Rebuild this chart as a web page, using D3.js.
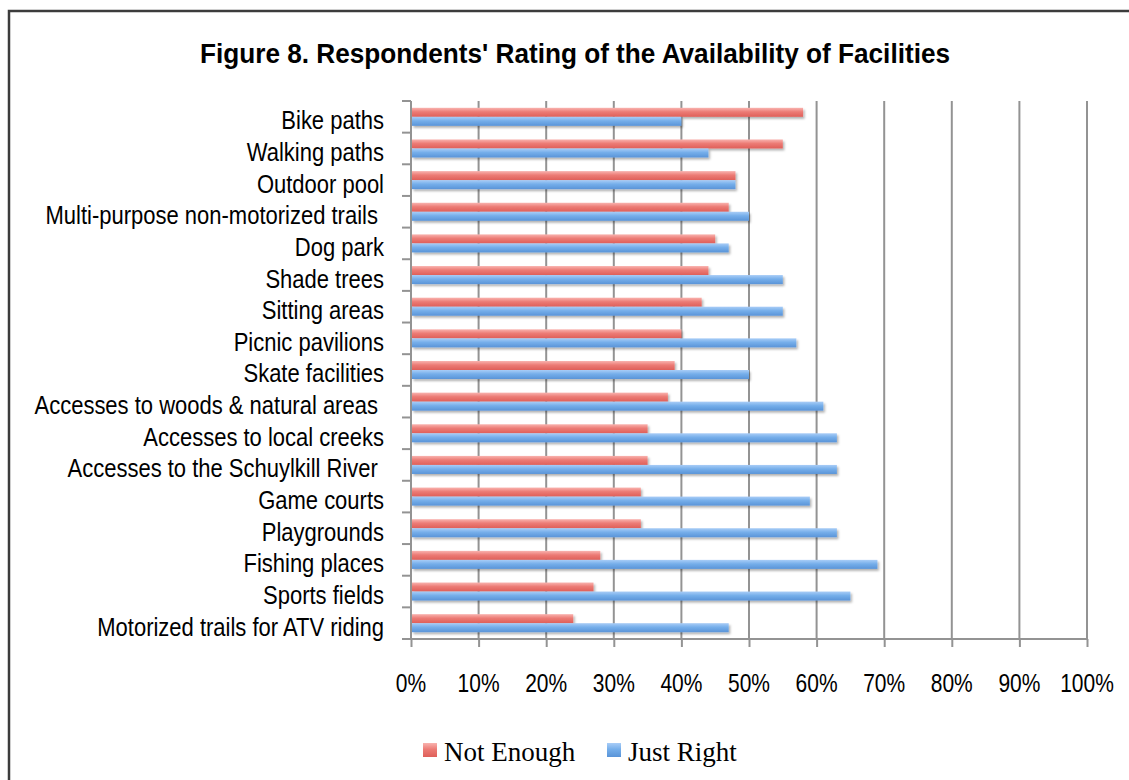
<!DOCTYPE html>
<html>
<head>
<meta charset="utf-8">
<script src="https://cdn.jsdelivr.net/npm/d3@7"></script>
<style>
  html, body { margin: 0; padding: 0; background: #fff; }
  svg { display: block; }
  text { white-space: pre; }
</style>
</head>
<body>
<svg id="chart" width="1129" height="780"></svg>
<script>
// --- Data ---------------------------------------------------------------
const categories = [
  'Bike paths',
  'Walking paths',
  'Outdoor pool',
  'Multi-purpose non-motorized trails ',
  'Dog park',
  'Shade trees',
  'Sitting areas',
  'Picnic pavilions',
  'Skate facilities',
  'Accesses to woods & natural areas ',
  'Accesses to local creeks',
  'Accesses to the Schuylkill River ',
  'Game courts',
  'Playgrounds',
  'Fishing places',
  'Sports fields',
  'Motorized trails for ATV riding'
];
const seriesNames = ['Not Enough', 'Just Right'];
const notEnough = [0.58, 0.55, 0.48, 0.47, 0.45, 0.44, 0.43, 0.40, 0.39, 0.38, 0.35, 0.35, 0.34, 0.34, 0.28, 0.27, 0.24];
const justRight = [0.40, 0.44, 0.48, 0.50, 0.47, 0.55, 0.55, 0.57, 0.50, 0.61, 0.63, 0.63, 0.59, 0.63, 0.69, 0.65, 0.47];
const xTicks = [0, 0.1, 0.2, 0.3, 0.4, 0.5, 0.6, 0.7, 0.8, 0.9, 1.0];

// --- Layout -------------------------------------------------------------
const svg = d3.select('#chart');
const plot = { left: 411, right: 1087, top: 101, bottom: 639 };
const sxTick = 0.84; // horizontal squeeze of the narrow-looking labels
const sxCat = 0.88;

const x = d3.scaleLinear().domain([0, 1]).range([plot.left, plot.right]);
const y = d3.scaleBand().domain(categories).range([plot.top, plot.bottom])
  .paddingInner(0.43).paddingOuter(0.215);
const ySub = d3.scaleBand().domain(seriesNames).range([0, y.bandwidth()]);

// gradients + shadow
const defs = svg.append('defs');
const grads = [
  { id: 'gRed', stops: ['#f9b3af', '#ec7b75', '#df5f59'] },
  { id: 'gBlue', stops: ['#a9cdf7', '#75aeea', '#5a94d8'] }
];
grads.forEach(g => {
  const lg = defs.append('linearGradient').attr('id', g.id)
    .attr('x1', 0).attr('y1', 0).attr('x2', 0).attr('y2', 1);
  lg.append('stop').attr('offset', '0%').attr('stop-color', g.stops[0]);
  lg.append('stop').attr('offset', '45%').attr('stop-color', g.stops[1]);
  lg.append('stop').attr('offset', '100%').attr('stop-color', g.stops[2]);
});
defs.append('filter').attr('id', 'shadow')
  .attr('x', '-5%').attr('y', '-50%').attr('width', '110%').attr('height', '200%')
  .append('feDropShadow')
  .attr('dx', 1.5).attr('dy', 2).attr('stdDeviation', 1.3)
  .attr('flood-color', '#000').attr('flood-opacity', 0.3);
const fills = { 'Not Enough': 'url(#gRed)', 'Just Right': 'url(#gBlue)' };

// frame (runs off the right and bottom edge)
svg.append('rect')
  .attr('x', 9).attr('y', 11).attr('width', 1200).attr('height', 800)
  .attr('fill', 'none').attr('stroke', '#3c3c3c').attr('stroke-width', 2.5);

// title
svg.append('text')
  .attr('x', 200).attr('y', 63)
  .attr('textLength', 750).attr('lengthAdjust', 'spacingAndGlyphs')
  .attr('font-family', 'Liberation Sans, Arial, sans-serif')
  .attr('font-weight', 'bold').attr('font-size', 28).attr('fill', '#000')
  .text("Figure 8. Respondents' Rating of the Availability of Facilities");

// gridlines
svg.append('g').selectAll('line.grid')
  .data(xTicks.slice(1))
  .join('line')
  .attr('x1', d => x(d)).attr('x2', d => x(d))
  .attr('y1', plot.top).attr('y2', plot.bottom)
  .attr('stroke', '#939393').attr('stroke-width', 2);

// x axis
const xAxis = svg.append('g')
  .attr('transform', `translate(0,${plot.bottom})`)
  .call(d3.axisBottom(x).tickValues(xTicks).tickFormat(d3.format('.0%')).tickSize(8).tickSizeOuter(0));
xAxis.select('.domain').attr('stroke', '#939393').attr('stroke-width', 2)
  .attr('d', `M${plot.left - 9},0H${plot.right}`);
xAxis.selectAll('.tick line').attr('stroke', '#939393').attr('stroke-width', 2);
xAxis.selectAll('.tick text').remove();

// x tick labels, squeezed horizontally
svg.append('g').attr('transform', `scale(${sxTick},1)`)
  .selectAll('text')
  .data(xTicks)
  .join('text')
  .attr('x', d => x(d) / sxTick).attr('y', 692)
  .attr('text-anchor', 'middle')
  .attr('font-family', 'Liberation Sans, Arial, sans-serif')
  .attr('font-size', 25).attr('fill', '#000')
  .text(d => d3.format('.0%')(d));

// y axis line + ticks at category boundaries
const yEdges = categories.map((c, i) => plot.top + i * y.step()).concat([plot.bottom]);
svg.append('line')
  .attr('x1', plot.left).attr('x2', plot.left)
  .attr('y1', plot.top).attr('y2', plot.bottom)
  .attr('stroke', '#939393').attr('stroke-width', 2);
svg.append('g').selectAll('line')
  .data(yEdges)
  .join('line')
  .attr('x1', plot.left - 9).attr('x2', plot.left)
  .attr('y1', d => d).attr('y2', d => d)
  .attr('stroke', '#939393').attr('stroke-width', 2);

// category labels
svg.append('g').attr('transform', `scale(${sxCat},1)`)
  .selectAll('text')
  .data(categories)
  .join('text')
  .attr('x', 384 / sxCat)
  .attr('y', d => y(d) + y.bandwidth() / 2 + 12.5)
  .attr('text-anchor', 'end')
  .attr('font-family', 'Liberation Sans, Arial, sans-serif')
  .attr('font-size', 25).attr('fill', '#000')
  .text(d => d);

// bars
const rows = categories.map((c, i) => ({
  cat: c,
  values: [
    { key: 'Not Enough', value: notEnough[i] },
    { key: 'Just Right', value: justRight[i] }
  ]
}));
svg.append('g').selectAll('g')
  .data(rows)
  .join('g')
  .attr('transform', d => `translate(0,${y(d.cat)})`)
  .selectAll('rect')
  .data(d => d.values)
  .join('rect')
  .attr('x', x(0) + 1)
  .attr('y', d => ySub(d.key))
  .attr('width', d => x(d.value) - x(0) - 1)
  .attr('height', ySub.bandwidth())
  .attr('fill', d => fills[d.key])
  .attr('filter', 'url(#shadow)');

// legend
const legendItems = [
  { key: 'Not Enough', sw: 423, tx: 444 },
  { key: 'Just Right', sw: 607, tx: 628 }
];
const legend = svg.append('g');
legend.selectAll('rect')
  .data(legendItems)
  .join('rect')
  .attr('x', d => d.sw).attr('y', 743)
  .attr('width', 14).attr('height', 14)
  .attr('fill', d => fills[d.key]);
legend.selectAll('text')
  .data(legendItems)
  .join('text')
  .attr('x', d => d.tx).attr('y', 761)
  .attr('font-family', 'Liberation Serif, Cambria, serif')
  .attr('font-size', 27).attr('fill', '#000')
  .text(d => d.key);
</script>
</body>
</html>
